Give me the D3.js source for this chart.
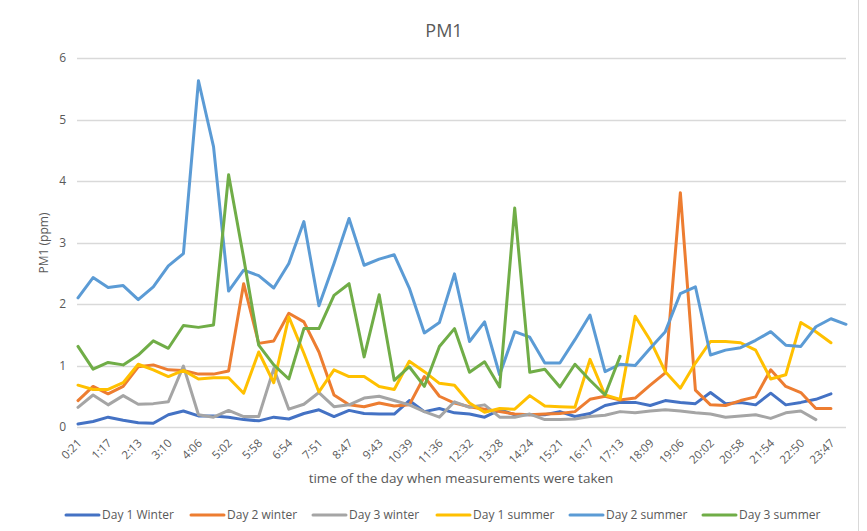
<!DOCTYPE html>
<html>
<head>
<meta charset="utf-8">
<script src="https://cdn.jsdelivr.net/npm/d3@7"></script>
<style>
  html, body { margin: 0; padding: 0; background: #fff; }
  svg { display: block; font-family: "Open Sans", "DejaVu Sans", sans-serif; }
</style>
</head>
<body>
<svg id="chart" width="867" height="531"></svg>
<script>
// ---- Data ----
const categories = ["0:21","0:49","1:17","1:45","2:13","2:41","3:10","3:38","4:06","4:34","5:02","5:30","5:58","6:26","6:54","7:22","7:51","8:19","8:47","9:15","9:43","10:11","10:39","11:07","11:36","12:04","12:32","13:00","13:28","13:56","14:24","14:52","15:21","15:49","16:17","16:45","17:13","17:41","18:09","18:37","19:06","19:34","20:02","20:30","20:58","21:26","21:54","22:22","22:50","23:18","23:47","0:15"];
const tickLabels = ["0:21","1:17","2:13","3:10","4:06","5:02","5:58","6:54","7:51","8:47","9:43","10:39","11:36","12:32","13:28","14:24","15:21","16:17","17:13","18:09","19:06","20:02","20:58","21:54","22:50","23:47"];
const yTicks = [0, 1, 2, 3, 4, 5, 6];
const seriesNames = ["Day 1 Winter", "Day 2 winter", "Day 3 winter", "Day 1 summer", "Day 2 summer", "Day 3 summer"];
const seriesColors = ["#4472C4", "#ED7D31", "#A5A5A5", "#FFC000", "#5B9BD5", "#70AD47"];

const day1Winter = [0.05,0.09,0.16,0.11,0.07,0.06,0.20,0.26,0.18,0.18,0.16,0.12,0.10,0.16,0.13,0.22,0.28,0.17,0.27,0.22,0.21,0.21,0.43,0.25,0.30,0.23,0.21,0.16,0.28,0.20,0.20,0.20,0.25,0.17,0.22,0.35,0.40,0.40,0.35,0.43,0.40,0.38,0.56,0.38,0.40,0.36,0.55,0.36,0.40,0.45,0.54,null];
const day2Winter = [0.43,0.66,0.54,0.66,0.98,1.01,0.93,0.92,0.86,0.86,0.91,2.33,1.36,1.40,1.85,1.71,1.22,0.52,0.36,0.33,0.39,0.34,0.36,0.82,0.50,0.39,0.33,0.29,0.25,0.21,0.20,0.21,0.22,0.25,0.45,0.50,0.44,0.47,0.68,0.88,3.81,0.60,0.36,0.35,0.43,0.49,0.93,0.66,0.56,0.30,0.30,null];
const day3Winter = [0.32,0.52,0.36,0.51,0.37,0.38,0.41,0.99,0.20,0.16,0.27,0.17,0.17,0.95,0.29,0.37,0.56,0.33,0.36,0.47,0.50,0.43,0.36,0.25,0.16,0.41,0.32,0.36,0.16,0.16,0.21,0.12,0.12,0.13,0.17,0.19,0.25,0.23,0.26,0.28,0.26,0.23,0.21,0.16,0.18,0.20,0.14,0.23,0.26,0.12,null,null];
const day1Summer = [0.68,0.61,0.61,0.72,1.02,0.93,0.82,0.92,0.78,0.80,0.80,0.55,1.22,0.72,1.79,1.20,0.57,0.93,0.82,0.82,0.66,0.61,1.07,0.90,0.71,0.68,0.39,0.24,0.30,0.29,0.51,0.34,0.33,0.32,1.10,0.52,0.45,1.80,1.41,0.90,0.63,1.04,1.39,1.39,1.37,1.25,0.78,0.85,1.70,1.55,1.37,null];
const day2Summer = [2.10,2.43,2.27,2.30,2.07,2.28,2.62,2.82,5.63,4.56,2.21,2.55,2.46,2.26,2.66,3.34,1.97,2.66,3.39,2.63,2.73,2.80,2.26,1.53,1.70,2.49,1.39,1.71,0.85,1.55,1.46,1.04,1.04,1.42,1.82,0.90,1.02,1.00,1.28,1.55,2.17,2.28,1.17,1.25,1.29,1.41,1.55,1.33,1.31,1.63,1.76,1.67];
const day3Summer = [1.31,0.94,1.05,1.01,1.17,1.40,1.28,1.65,1.62,1.66,4.10,2.75,1.33,1.01,0.78,1.60,1.60,2.14,2.33,1.14,2.15,0.76,0.98,0.66,1.31,1.60,0.89,1.06,0.65,3.56,0.89,0.94,0.65,1.02,0.76,0.52,1.15,null,null,null,null,null,null,null,null,null,null,null,null,null,null,null];

const seriesValues = [day1Winter, day2Winter, day3Winter, day1Summer, day2Summer, day3Summer];

// ---- Layout ----
const W = 867, H = 531;
const plot = { left: 78, right: 846, top: 58, bottom: 427 };
const textColor = "#595959";
const gridColor = "#D9D9D9";

const svg = d3.select("#chart");
svg.append("rect").attr("width", W).attr("height", H).attr("fill", "#fff");

const x = d3.scalePoint().domain(categories).range([plot.left, plot.right]);
const y = d3.scaleLinear().domain([0, 6]).range([plot.bottom, plot.top]);

// gridlines
svg.append("g").selectAll("line").data(yTicks).join("line")
  .attr("x1", plot.left - 1).attr("x2", plot.right)
  .attr("y1", d => Math.round(y(d)) + 0.5).attr("y2", d => Math.round(y(d)) + 0.5)
  .attr("stroke", gridColor).attr("stroke-width", 1.3);

// y axis labels
const yAxis = d3.axisLeft(y).tickValues(yTicks).tickSize(0).tickPadding(0).tickFormat(d3.format("d"));
const yg = svg.append("g").attr("transform", `translate(${plot.left - 12},0)`).call(yAxis);
yg.select(".domain").remove();
yg.selectAll("text").attr("fill", textColor).attr("font-size", 12).attr("font-family", "Open Sans");

// x axis labels
const xAxis = d3.axisBottom(x).tickValues(tickLabels).tickSize(0).tickPadding(0);
const xg = svg.append("g").attr("transform", `translate(0,${plot.bottom})`).call(xAxis);
xg.select(".domain").remove();
xg.selectAll("text")
  .attr("fill", textColor).attr("font-size", 11.5).attr("font-family", "Open Sans")
  .attr("text-anchor", "end")
  .attr("y", 0).attr("dy", "0.35em")
  .attr("transform", "translate(1,14) rotate(-45)");

// lines
const line = d3.line()
  .defined(d => d.v != null)
  .x(d => x(d.c))
  .y(d => y(d.v));

seriesValues.forEach((vals, i) => {
  const pts = vals.map((v, j) => ({ c: categories[j], v }));
  svg.append("path")
    .datum(pts)
    .attr("d", line)
    .attr("fill", "none")
    .attr("stroke", seriesColors[i])
    .attr("stroke-width", 3)
    .attr("stroke-linejoin", "round")
    .attr("stroke-linecap", "round");
});

// title
svg.append("text").attr("x", 444).attr("y", 37).attr("text-anchor", "middle")
  .attr("font-size", 18).attr("fill", textColor).text("PM1");

// y axis title
svg.append("text").attr("transform", "translate(48,243) rotate(-90)")
  .attr("text-anchor", "middle").attr("font-size", 12).attr("fill", textColor)
  .text("PM1 (ppm)");

// x axis title
svg.append("text").attr("x", 461).attr("y", 483).attr("text-anchor", "middle")
  .attr("font-size", 13.5).attr("fill", textColor)
  .text("time of the day when measurements were taken");

// legend
const legendStarts = [66, 191, 313, 437, 570, 703];
const lg = svg.append("g");
seriesNames.forEach((name, i) => {
  const g = lg.append("g").attr("transform", `translate(${legendStarts[i]},515)`);
  g.append("line").attr("x1", 0).attr("x2", 33).attr("y1", 0).attr("y2", 0)
    .attr("stroke", seriesColors[i]).attr("stroke-width", 3).attr("stroke-linecap", "round");
  g.append("text").attr("x", 36).attr("y", 0).attr("dy", "0.35em")
    .attr("font-size", 12).attr("fill", textColor).text(name);
});

// right border of chart area
svg.append("line").attr("x1", 858.5).attr("x2", 858.5).attr("y1", 0).attr("y2", H)
  .attr("stroke", "#D9D9D9").attr("stroke-width", 1);
</script>
</body>
</html>
